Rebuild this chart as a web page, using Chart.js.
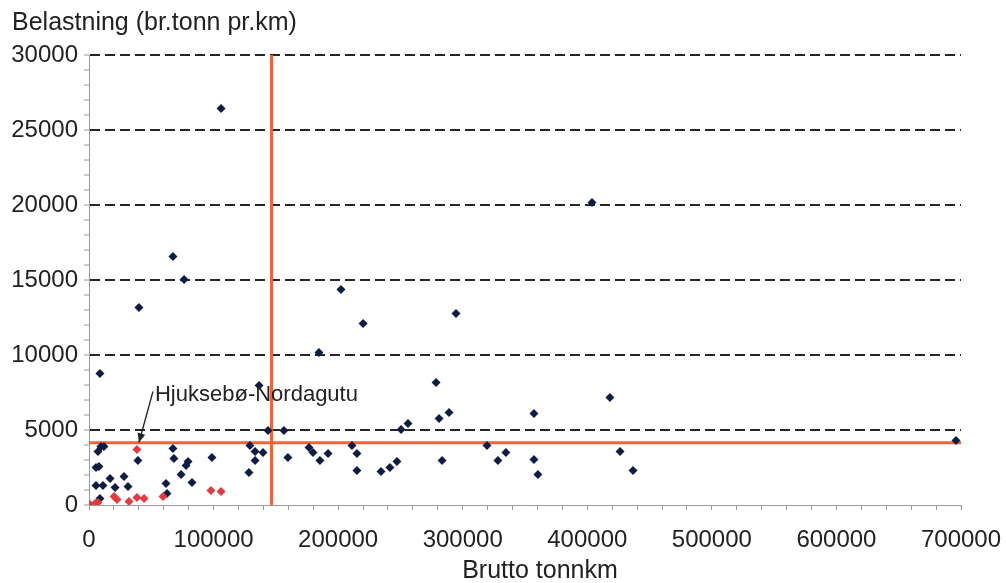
<!DOCTYPE html>
<html>
<head>
<meta charset="utf-8">
<script src="https://cdn.jsdelivr.net/npm/chart.js@4.4.1/dist/chart.umd.min.js"></script>
<style>
  html, body { margin: 0; padding: 0; background: #ffffff; }
  #wrap { width: 1006px; height: 583px; position: relative; }
</style>
</head>
<body>
<div id="wrap"><canvas id="c" width="1006" height="583"></canvas></div>
<script>
// ---- Data ----
const yAxisTitle = 'Belastning (br.tonn pr.km)';
const xAxisTitle = 'Brutto tonnkm';
const annotationLabel = 'Hjuksebø-Nordagutu';

// Blue series: x = Brutto tonnkm, y = Belastning
const blueX = [106000, 67400, 76300, 40100, 8800, 136500, 202300, 220000, 184600, 294600,
               403800, 418200, 278600, 281000, 289000, 250500, 256100, 283400, 319500, 328300,
               334700, 241600, 247200, 156500, 159700, 176600, 179800, 185400, 191900, 211100,
               215100, 215100, 234400, 357200, 357200, 360400, 426300, 436700, 696000, 143700,
               129200, 133300, 139700, 133300, 128400, 98700, 79500, 77900, 73900, 82700,
               9600, 12000, 7200, 5600, 8000, 5600, 11200, 16900, 20900, 28100,
               31300, 39300, 8800, 61800, 62600, 67400, 68200];
const blueY = [26430, 16570, 15030, 13170, 8770, 7970, 14370, 12100, 10170, 12770,
               20170, 7170, 8170, 5770, 6170, 5030, 5430, 2970, 3970, 2970,
               3500, 2500, 2900, 4970, 3170, 3830, 3500, 2970, 3430, 3970,
               3430, 2300, 2230, 6100, 3030, 2030, 3570, 2300, 4300, 4970,
               3970, 3570, 3500, 2970, 2170, 3170, 2900, 2630, 2030, 1500,
               3900, 3900, 3570, 2500, 2570, 1300, 1300, 1770, 1170, 1900,
               1230, 2970, 430, 1430, 770, 3770, 3100];

// Red series (first point is Hjuksebø-Nordagutu)
const redX = [38500, 20100, 22500, 32100, 38500, 44200, 59400, 800, 4800, 7200, 97900, 106000];
const redY = [3700, 570, 370, 230, 500, 430, 570, 30, 100, 170, 970, 900];

// Threshold lines
const thresholdX = 146500;
const thresholdY = 4150;

// Axis ranges / ticks
const xMin = 0, xMax = 700000, xMinorStep = 20000, xLabelStep = 100000;
const yMin = 0, yMax = 30000, yMinorStep = 1000, yLabelStep = 5000;

// ---- Build ----
const toPoints = (xs, ys) => xs.map((x, i) => ({ x: x, y: ys[i] }));
const FONT = "'Liberation Sans', Arial, Helvetica, sans-serif";
const TEXT = '#222222';
const ORANGE = '#f0643a';

const labelsPlugin = {
  id: 'labelsPlugin',
  afterDraw(chart) {
    const ctx = chart.ctx;
    const xs = chart.scales.x, ys = chart.scales.y;
    ctx.save();
    ctx.fillStyle = TEXT;
    ctx.font = '25px ' + FONT;
    ctx.textAlign = 'left';
    ctx.textBaseline = 'middle';
    ctx.fillText(yAxisTitle, 12, 23);
    ctx.textAlign = 'center';
    ctx.fillText(xAxisTitle, 540, 571);

    // annotation for Hjuksebø-Nordagutu
    const px = xs.getPixelForValue(redX[0]);
    const py = ys.getPixelForValue(redY[0]);
    ctx.font = '22px ' + FONT;
    ctx.textAlign = 'left';
    ctx.fillText(annotationLabel, px + 18, py - 55);
    ctx.strokeStyle = '#222';
    ctx.lineWidth = 1.3;
    const sx = px + 16, sy = py - 58, tx = px + 2, ty = py - 7;
    ctx.beginPath();
    ctx.moveTo(sx, sy);
    ctx.lineTo(tx, ty);
    ctx.stroke();
    const ang = Math.atan2(ty - sy, tx - sx);
    const L = 10, W = 0.4;
    ctx.beginPath();
    ctx.moveTo(tx, ty);
    ctx.lineTo(tx - L * Math.cos(ang - W), ty - L * Math.sin(ang - W));
    ctx.lineTo(tx - L * Math.cos(ang + W), ty - L * Math.sin(ang + W));
    ctx.closePath();
    ctx.fillStyle = '#222';
    ctx.fill();
    ctx.restore();
  }
};

new Chart(document.getElementById('c'), {
  type: 'scatter',
  data: {
    datasets: [
      {
        label: 'red',
        data: toPoints(redX, redY),
        pointStyle: 'rectRot',
        pointRadius: 4.5,
        backgroundColor: '#e23a42',
        borderColor: '#e23a42',
        borderWidth: 0
      },
      {
        label: 'blue',
        data: toPoints(blueX, blueY),
        pointStyle: 'rectRot',
        pointRadius: 4.5,
        backgroundColor: '#0f1d42',
        borderColor: '#0f1d42',
        borderWidth: 0
      },
      {
        type: 'line',
        label: 'vlimit',
        data: [{ x: thresholdX, y: yMin }, { x: thresholdX, y: yMax }],
        borderColor: ORANGE,
        borderWidth: 3,
        pointRadius: 0,
        showLine: true,
        fill: false
      },
      {
        type: 'line',
        label: 'hlimit',
        data: [{ x: xMin, y: thresholdY }, { x: xMax, y: thresholdY }],
        borderColor: ORANGE,
        borderWidth: 3,
        pointRadius: 0,
        showLine: true,
        fill: false
      }
    ]
  },
  options: {
    responsive: false,
    animation: false,
    layout: { padding: { top: 55, right: 45, left: 0, bottom: 0 } },
    plugins: {
      legend: { display: false },
      tooltip: { enabled: false },
      title: { display: false }
    },
    scales: {
      x: {
        type: 'linear',
        min: xMin, max: xMax,
        afterFit: s => { s.height = 78; s.paddingRight = 45; s.paddingLeft = 0; },
        grid: {
          drawOnChartArea: false,
          drawTicks: true,
          tickLength: 5,
          tickColor: '#9a9a9a',
          tickWidth: 1
        },
        border: { display: true, color: '#9a9a9a', width: 1 },
        ticks: {
          stepSize: xMinorStep,
          autoSkip: false,
          maxRotation: 0,
          padding: 16,
          color: TEXT,
          font: { family: FONT, size: 24 },
          callback: v => (v % xLabelStep === 0 ? String(v) : '')
        }
      },
      y: {
        type: 'linear',
        min: yMin, max: yMax,
        afterFit: s => { s.width = 89; },
        grid: {
          drawOnChartArea: true,
          drawTicks: true,
          tickLength: 5,
          tickColor: '#9a9a9a',
          tickWidth: 1,
          color: ctx => (ctx.tick && ctx.tick.value > 0 && ctx.tick.value % yLabelStep === 0) ? '#262626' : 'rgba(0,0,0,0)',
          lineWidth: 2
        },
        border: { display: true, color: '#9a9a9a', width: 1, dash: [10, 5] },
        ticks: {
          stepSize: yMinorStep,
          autoSkip: false,
          padding: 6,
          color: TEXT,
          font: { family: FONT, size: 24 },
          callback: v => (v % yLabelStep === 0 ? String(v) : '')
        }
      }
    }
  },
  plugins: [labelsPlugin]
});
</script>
</body>
</html>
